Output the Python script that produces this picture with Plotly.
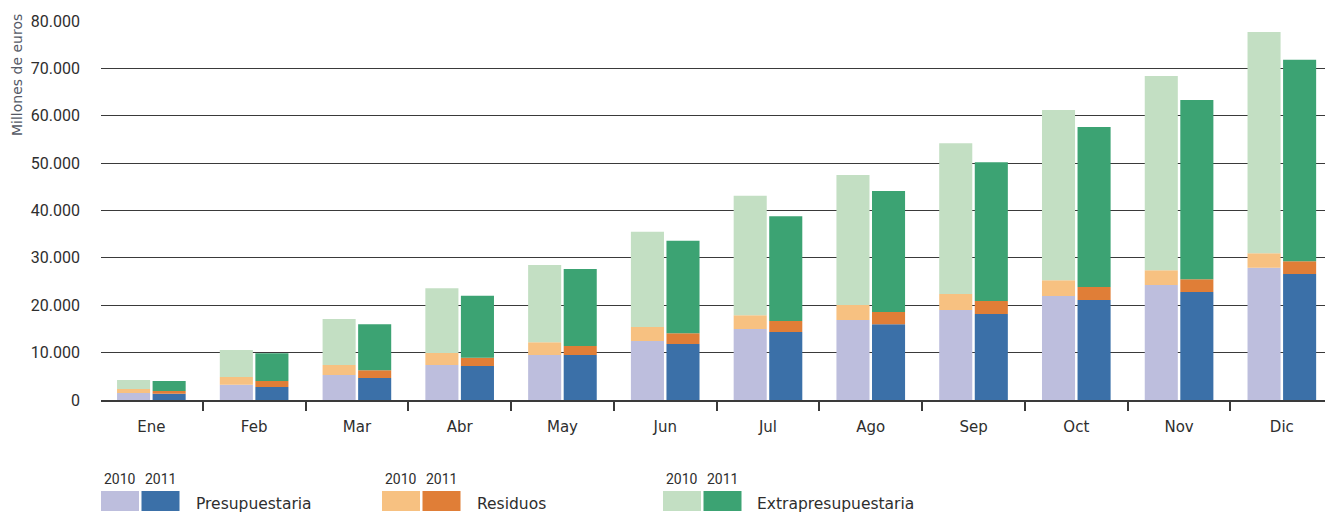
import numpy as np
import plotly.graph_objects as go

# Acumulado mensual, millones de euros
meses = ["Ene", "Feb", "Mar", "Abr", "May", "Jun", "Jul", "Ago", "Sep", "Oct", "Nov", "Dic"]

presupuestaria_2010 = [1500, 3200, 5300, 7400, 9500, 12450, 15000, 16900, 19000, 21950, 24300, 27900]
residuos_2010 = [800, 1650, 2100, 2500, 2700, 2950, 2900, 3150, 3400, 3350, 3100, 3100]
extrapresupuestaria_2010 = [1900, 5700, 9700, 13700, 16300, 20100, 25200, 27450, 31800, 35900, 41000, 46700]

presupuestaria_2011 = [1300, 2750, 4650, 7200, 9500, 11800, 14350, 16000, 18150, 21100, 22800, 26600]
residuos_2011 = [600, 1250, 1650, 1700, 1900, 2300, 2350, 2600, 2750, 2750, 2700, 2700]
extrapresupuestaria_2011 = [2100, 5850, 9700, 13100, 16250, 19500, 22100, 25500, 29300, 33750, 37800, 42500]

y_ticks = [0, 10000, 20000, 30000, 40000, 50000, 60000, 70000, 80000]

colores = {
    ("Presupuestaria", "2010"): "#BDBEDD",
    ("Presupuestaria", "2011"): "#3B70A8",
    ("Residuos", "2010"): "#F7C181",
    ("Residuos", "2011"): "#E07E37",
    ("Extrapresupuestaria", "2010"): "#C3DFC3",
    ("Extrapresupuestaria", "2011"): "#3CA373",
}

series = {
    "2010": [("Presupuestaria", presupuestaria_2010),
             ("Residuos", residuos_2010),
             ("Extrapresupuestaria", extrapresupuestaria_2010)],
    "2011": [("Presupuestaria", presupuestaria_2011),
             ("Residuos", residuos_2011),
             ("Extrapresupuestaria", extrapresupuestaria_2011)],
}

FONT = "Roboto"
FONT_ANCHA = "DejaVu Sans"
TXT = "#2e2e2e"

fig = go.Figure()
for anio, capas in series.items():
    base = np.zeros(len(meses))
    for nombre, valores in capas:
        v = np.array(valores, dtype=float)
        fig.add_trace(go.Bar(
            x=meses, y=v, base=base.copy(),
            offsetgroup=anio, name=f"{nombre} {anio}",
            marker=dict(color=colores[(nombre, anio)], line=dict(width=0)),
            showlegend=False,
        ))
        base = base + v

# Geometry of the plotting area in pixels (for the hand-made legend)
W, H = 1325, 513
L, R, T, B = 101, 0, 21, 113
pw, ph = W - L - R, H - T - B


def px(x):
    return (x - L) / pw


def py(y):
    return (H - B - y) / ph


shapes = []
annotations = []
leyenda = [
    ("Presupuestaria", 101, 194),
    ("Residuos", 382, 475),
    ("Extrapresupuestaria", 663, 755),
]
for nombre, x0, xt in leyenda:
    for i, anio in enumerate(["2010", "2011"]):
        a = x0 + i * 40.5
        shapes.append(dict(type="rect", xref="paper", yref="paper",
                           x0=px(a), x1=px(a + 38), y0=py(511), y1=py(491),
                           line=dict(width=0), fillcolor=colores[(nombre, anio)]))
        annotations.append(dict(text=anio, xref="paper", yref="paper",
                                x=px(a + 19), y=py(479), xanchor="center", yanchor="middle",
                                showarrow=False, font=dict(family=FONT, size=14, color=TXT)))
    annotations.append(dict(text=nombre, xref="paper", yref="paper",
                            x=px(xt), y=py(504), xanchor="left", yanchor="middle",
                            showarrow=False, font=dict(family=FONT_ANCHA, size=15.5, color=TXT)))

annotations.append(dict(text="Millones de euros", xref="paper", yref="paper",
                        x=px(17), y=py(12), xanchor="center", yanchor="top",
                        textangle=-90, showarrow=False,
                        font=dict(family=FONT_ANCHA, size=14, color="#555a66")))

fig.update_layout(
    width=W, height=H,
    margin=dict(l=L, r=R, t=T, b=B, pad=0),
    paper_bgcolor="white", plot_bgcolor="white",
    barmode="group", bargap=0.308, bargroupgap=0.07,
    separators=",.",
    font=dict(family=FONT, size=16, color=TXT),
    shapes=shapes, annotations=annotations,
    xaxis=dict(
        type="category", categoryorder="array", categoryarray=meses,
        range=[-0.49, 11.42],
        showline=True, linecolor="#3a3a3a", linewidth=1.5,
        ticks="outside", tickson="boundaries", ticklen=9, tickwidth=1.5, tickcolor="#3a3a3a",
        ticklabelstandoff=12,
        showgrid=False, tickfont=dict(family=FONT_ANCHA, size=15, color=TXT),
    ),
    yaxis=dict(
        range=[0, 80000], tickvals=y_ticks, tickformat=",d",
        showgrid=True, gridcolor="#3a3a3a", gridwidth=1,
        zeroline=False, showline=False, ticks="",
        ticklabelstandoff=20,
        tickfont=dict(family=FONT, size=16, color=TXT),
    ),
)

fig.write_html("out.html")
